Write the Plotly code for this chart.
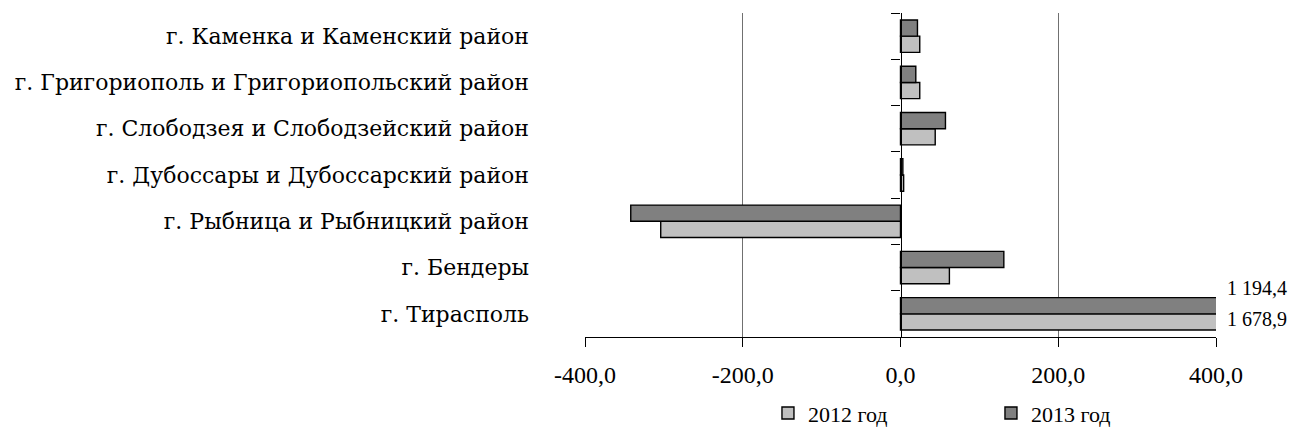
import plotly.graph_objects as go

# Districts listed bottom-to-top as they appear on the category axis
districts = [
    "г. Тирасполь",
    "г. Бендеры",
    "г. Рыбница и Рыбницкий район",
    "г. Дубоссары и Дубоссарский район",
    "г. Слободзея и Слободзейский район",
    "г. Григориополь и Григориопольский район",
    "г. Каменка и Каменский район",
]
values_2012 = [1678.9, 62.0, -304.0, 4.0, 44.0, 24.4, 24.4]
values_2013 = [1194.4, 131.0, -342.0, 3.0, 57.0, 19.4, 21.5]

x_ticks = [-400, -200, 0, 200, 400]
x_tick_text = ["-400,0", "-200,0", "0,0", "200,0", "400,0"]
x_range = [-400, 400]

SERIF = "Liberation Serif"
WIDE_SERIF = "DejaVu Serif"


def ru_number(v):
    s = f"{v:,.1f}"
    return s.replace(",", " ").replace(".", ",")


fig = go.Figure()
fig.add_trace(go.Bar(
    y=districts, x=values_2012, orientation="h", name="2012 год",
    marker=dict(color="#c0c0c0", line=dict(color="black", width=1.4)),
))
fig.add_trace(go.Bar(
    y=districts, x=values_2013, orientation="h", name="2013 год",
    marker=dict(color="#808080", line=dict(color="black", width=1.4)),
))
# invisible trace carrying the category-boundary axis drawn at zero
fig.add_trace(go.Scatter(
    y=list(range(len(districts))), x=[0] * len(districts), yaxis="y2",
    mode="markers", marker=dict(opacity=0), showlegend=False, hoverinfo="skip",
))

# values of the bars running past the axis limit
top_cat = districts[0]
fig.add_annotation(x=x_range[1], y=top_cat, text=ru_number(values_2013[0]),
                   xanchor="left", yanchor="middle", yshift=26, xshift=9,
                   showarrow=False, font=dict(family=SERIF, size=20, color="black"))
fig.add_annotation(x=x_range[1], y=top_cat, text=ru_number(values_2012[0]),
                   xanchor="left", yanchor="middle", yshift=-5, xshift=9,
                   showarrow=False, font=dict(family=SERIF, size=20, color="black"))

fig.update_layout(
    width=1292, height=434,
    margin=dict(l=585, r=76, t=13, b=97, autoexpand=False),
    paper_bgcolor="white", plot_bgcolor="white",
    barmode="group", bargap=0.3, bargroupgap=0,
    font=dict(family=SERIF, size=24, color="black"),
    xaxis=dict(
        range=x_range, tickvals=x_ticks, ticktext=x_tick_text,
        showgrid=False, zeroline=False,
        showline=True, linecolor="black", linewidth=1.3,
        ticks="outside", ticklen=9, tickcolor="black", tickwidth=1.3,
        ticklabelstandoff=7,
        tickfont=dict(family=SERIF, size=24),
        minor=dict(tickvals=[-200, 200], showgrid=True, gridcolor="#707070",
                   gridwidth=1.2, ticks=""),
    ),
    yaxis=dict(
        type="category", categoryorder="array", categoryarray=districts,
        range=[-0.5, len(districts) - 0.5],
        showgrid=False, zeroline=False, showline=False, ticks="",
        ticklabelstandoff=55,
        tickfont=dict(family=WIDE_SERIF, size=22),
    ),
    yaxis2=dict(
        overlaying="y", anchor="free", position=0.5,
        range=[-0.5, len(districts) - 0.5],
        tickvals=[i - 0.5 for i in range(len(districts) + 1)],
        showticklabels=False, showgrid=False, zeroline=False,
        showline=True, linecolor="black", linewidth=1.3,
        ticks="outside", ticklen=9, tickcolor="black", tickwidth=1.3,
    ),
    legend=dict(
        orientation="h", xref="container", yref="container",
        x=0.5944, xanchor="left", y=0.048, yanchor="middle",
        entrywidth=178, entrywidthmode="pixels",
        font=dict(family=SERIF, size=22), traceorder="normal",
    ),
    showlegend=True,
)

fig.write_html("out.html")
